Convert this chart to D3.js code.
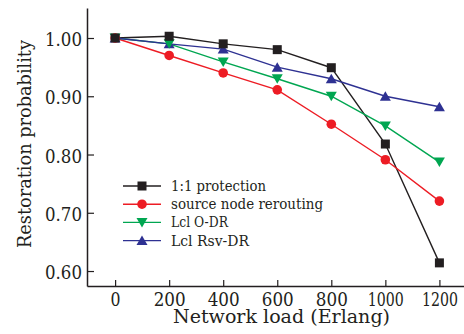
<!DOCTYPE html>
<html>
<head>
<meta charset="utf-8">
<script src="https://cdn.jsdelivr.net/npm/d3@7"></script>
<style>
  body { margin: 0; background: #fff; }
  svg text { font-family: "DejaVu Serif", serif; fill: #231f20; }
</style>
</head>
<body>
<div class="main"></div>
<script>
//// Data
const loads = [0, 200, 400, 600, 800, 1000, 1200];
const protection = [1.00, 1.003, 0.99, 0.98, 0.949, 0.818, 0.614];
const sourceReroute = [1.00, 0.97, 0.94, 0.911, 0.852, 0.791, 0.720];
const lclODR = [1.00, 0.99, 0.959, 0.93, 0.90, 0.849, 0.787];
const lclRsvDR = [1.00, 0.99, 0.981, 0.95, 0.93, 0.90, 0.882];
const xTicks = [0, 200, 400, 600, 800, 1000, 1200];
const yTicks = [0.6, 0.7, 0.8, 0.9, 1.0];

const series = [
  { name: '1:1 protection', values: protection, color: '#231f20', symbol: 'square', len: 95 },
  { name: 'source node rerouting', values: sourceReroute, color: '#ed1c24', symbol: 'circle', len: 152 },
  { name: 'Lcl O-DR', values: lclODR, color: '#00a651', symbol: 'down', len: 57 },
  { name: 'Lcl Rsv-DR', values: lclRsvDR, color: '#2e3192', symbol: 'up', len: 78 }
];

////Global Variables
const width = 464;
const height = 334;
const plotLeft = 87, plotRight = 464, plotTop = 8, plotBottom = 286;

const svg = d3.select('.main').append('svg')
  .attr('width', width)
  .attr('height', height);

const xScale = d3.scaleLinear().domain([-104, 1291]).range([plotLeft, plotRight]);
const yScale = d3.scaleLinear().domain([0.5743, 1.0515]).range([plotBottom, plotTop]);

////Axes
const xAxis = d3.axisBottom(xScale).tickValues(xTicks).tickSize(-6).tickSizeOuter(0)
  .tickFormat(d3.format('d'));
const yAxis = d3.axisLeft(yScale).tickValues(yTicks).tickSize(-7).tickSizeOuter(0)
  .tickPadding(5).tickFormat(d3.format('.2f'));

const gx = svg.append('g')
  .attr('transform', `translate(0, ${plotBottom})`)
  .call(xAxis);
const gy = svg.append('g')
  .attr('transform', `translate(${plotLeft}, 0)`)
  .call(yAxis);

[gx, gy].forEach(g => {
  g.select('.domain').attr('stroke', '#231f20').attr('stroke-width', 1.5);
  g.selectAll('.tick line').attr('stroke', '#231f20').attr('stroke-width', 1.2);
  g.selectAll('.tick text').style('font-family', '"DejaVu Serif", serif')
    .style('font-size', '18px').attr('fill', '#231f20')
    .attr('lengthAdjust', 'spacingAndGlyphs');
});
const xLabelLen = {1: 10, 3: 32, 4: 36};
gx.selectAll('.tick text')
  .attr('y', 20).attr('dy', 0)
  .attr('textLength', d => xLabelLen[String(d).length]);
gy.selectAll('.tick text')
  .attr('dy', '0.42em')
  .attr('textLength', 37);

svg.append('text')
  .attr('x', 281.5)
  .attr('y', 323)
  .attr('text-anchor', 'middle')
  .attr('textLength', 217)
  .attr('lengthAdjust', 'spacingAndGlyphs')
  .style('font-size', '19px')
  .text('Network load (Erlang)');

svg.append('text')
  .attr('transform', 'translate(31, 144) rotate(-90)')
  .attr('text-anchor', 'middle')
  .attr('textLength', 208)
  .attr('lengthAdjust', 'spacingAndGlyphs')
  .style('font-size', '19px')
  .text('Restoration probability');

////Markers
function drawSymbol(g, type, x, y, color) {
  if (type === 'square') {
    g.append('rect').attr('x', x - 4.5).attr('y', y - 4.5).attr('width', 9).attr('height', 9).attr('fill', color);
  } else if (type === 'circle') {
    g.append('circle').attr('cx', x).attr('cy', y).attr('r', 4.8).attr('fill', color);
  } else if (type === 'down') {
    g.append('path').attr('d', `M${x - 5.5},${y - 4.5}L${x + 5.5},${y - 4.5}L${x},${y + 5}Z`).attr('fill', color);
  } else {
    g.append('path').attr('d', `M${x - 5.5},${y + 4.5}L${x + 5.5},${y + 4.5}L${x},${y - 5}Z`).attr('fill', color);
  }
}

const line = d3.line().x(d => xScale(d[0])).y(d => yScale(d[1]));

series.forEach(s => {
  const pts = loads.map((l, i) => [l, s.values[i]]);
  svg.append('path')
    .attr('d', line(pts))
    .attr('fill', 'none')
    .attr('stroke', s.color)
    .attr('stroke-width', 1.4);
});
// markers after all lines, reversed so black ends up on top
series.slice().reverse().forEach(s => {
  const g = svg.append('g');
  loads.forEach((l, i) => drawSymbol(g, s.symbol, xScale(l), yScale(s.values[i]), s.color));
});

////Legend
const legend = svg.append('g');
series.forEach((s, i) => {
  const y = 186 + i * 18.2;
  legend.append('line').attr('x1', 123).attr('x2', 161).attr('y1', y).attr('y2', y)
    .attr('stroke', s.color).attr('stroke-width', 1.4);
  drawSymbol(legend, s.symbol, 142, y, s.color);
  legend.append('text')
    .attr('x', 171)
    .attr('y', y)
    .attr('dy', '0.35em')
    .attr('textLength', s.len)
    .attr('lengthAdjust', 'spacingAndGlyphs')
    .style('font-size', '14px')
    .text(s.name);
});
</script>
</body>
</html>
